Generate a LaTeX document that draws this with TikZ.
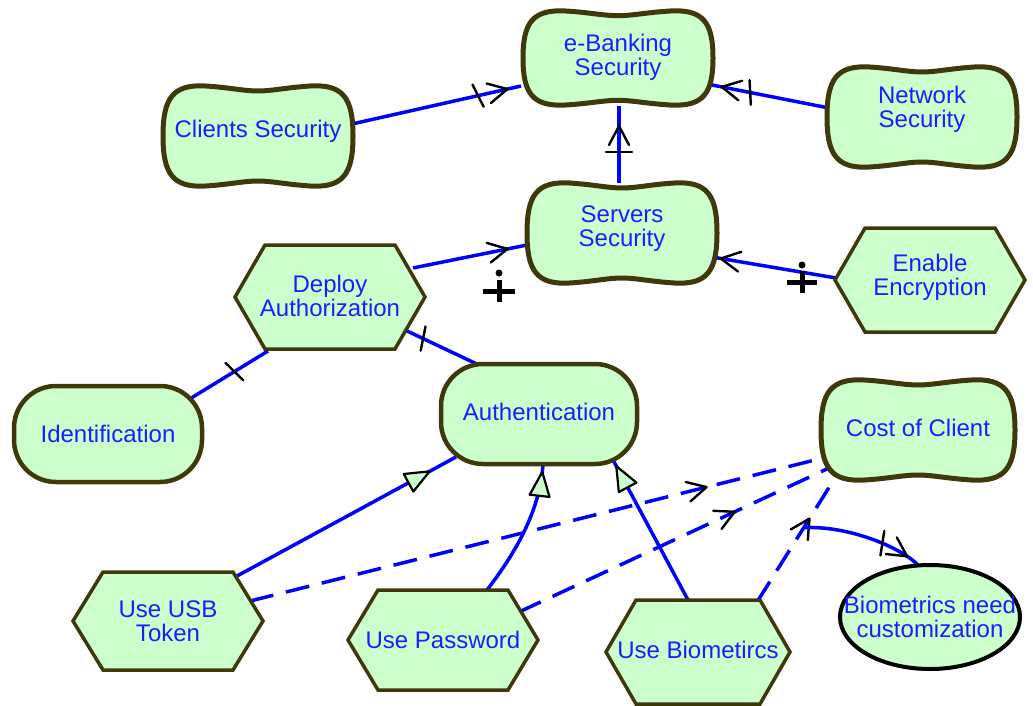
\documentclass[tikz,border=0pt]{standalone}
\usepackage{fontspec}
\usetikzlibrary{calc,decorations.markings}
\newfontfamily\lbfont{Liberation Sans}
\definecolor{sgfill}{RGB}{204,255,204}
\definecolor{edgecol}{RGB}{62,56,10}
\definecolor{txtblue}{RGB}{28,28,255}
\definecolor{linkblue}{RGB}{0,0,255}
\pgfdeclarelayer{links}
\pgfdeclarelayer{shapes}
\pgfsetlayers{links,shapes,main}

\tikzset{
  lbl/.style={font=\lbfont\fontsize{24}{24}\selectfont, text=txtblue, align=center, inner sep=0pt},
  sgline/.style={fill=sgfill, draw=edgecol, line width=5pt, line join=round},
  taskline/.style={fill=sgfill, draw=edgecol, line width=3.5pt, line join=miter},
  goalline/.style={fill=sgfill, draw=edgecol, line width=4.5pt},
  beliefline/.style={fill=sgfill, draw=black, line width=4pt},
  link/.style={draw=linkblue, line width=3.5pt},
  dlink/.style={link, dash pattern=on 24pt off 13pt},
  mk/.style={draw=black, line width=2.4pt, line cap=round, line join=round, solid},
  plus/.style={draw=black, line width=5pt},
  barbat/.style={postaction={decorate,decoration={markings,mark=at position #1 with {\draw[mk] (-19,-10) -- (0,0) -- (-19,10);}}}},
  tickat/.style={postaction={decorate,decoration={markings,mark=at position #1 with {\draw[mk] (-3,-12) -- (3,12);}}}},
  barat/.style={postaction={decorate,decoration={markings,mark=at position #1 with {\draw[mk] (0,-13) -- (0,13);}}}},
  meat/.style={postaction={decorate,decoration={markings,mark=at position #1 with {\draw[mk, fill=sgfill, line width=2.2pt] (0,0) -- (-24,-10) -- (-24,10) -- cycle;}}}},
}

% softgoal outline: node, half width, half height, vertical offset
\newcommand\sgshape[4]{%
  \begin{pgfonlayer}{shapes}
  \path[sgline, shift={($(#1)+(0,#4)$)}]
    (-#2,0) .. controls (-#2,{-0.75*#3}) and ({-0.9*#2},{-1.04*#3}) .. ({-0.55*#2},-#3)
    .. controls ({-0.3*#2},{-0.97*#3}) and ({-0.15*#2},{-0.9*#3}) .. (0,{-0.9*#3})
    .. controls ({0.15*#2},{-0.9*#3}) and ({0.3*#2},{-0.97*#3}) .. ({0.55*#2},-#3)
    .. controls ({0.9*#2},{-1.04*#3}) and (#2,{-0.75*#3}) .. (#2,0)
    .. controls (#2,{0.75*#3}) and ({0.9*#2},{1.04*#3}) .. ({0.55*#2},#3)
    .. controls ({0.3*#2},{0.97*#3}) and ({0.15*#2},{0.9*#3}) .. (0,{0.9*#3})
    .. controls ({-0.15*#2},{0.9*#3}) and ({-0.3*#2},{0.97*#3}) .. ({-0.55*#2},#3)
    .. controls ({-0.9*#2},{1.04*#3}) and (-#2,{0.75*#3}) .. (-#2,0) -- cycle;
  \end{pgfonlayer}}
% task outline (hexagon)
\newcommand\tkshape[4]{%
  \begin{pgfonlayer}{shapes}
  \path[taskline, shift={($(#1)+(0,#4)$)}]
    (-#2,0) -- ({-#2+30},-#3) -- ({#2-30},-#3) -- (#2,0) -- ({#2-30},#3) -- ({-#2+30},#3) -- cycle;
  \end{pgfonlayer}}
% goal outline (rounded box)
\newcommand\glshape[4]{%
  \begin{pgfonlayer}{shapes}
  \path[goalline, rounded corners=42pt, shift={($(#1)+(0,#4)$)}] (-#2,-#3) rectangle (#2,#3);
  \end{pgfonlayer}}
% belief outline (ellipse)
\newcommand\blshape[4]{%
  \begin{pgfonlayer}{shapes}
  \path[beliefline, shift={($(#1)+(0,#4)$)}] (0,0) ellipse [x radius=#2pt, y radius=#3pt];
  \end{pgfonlayer}}

\begin{document}
\begin{tikzpicture}[x=1pt,y=-1pt]
\useasboundingbox (0,0) rectangle (1033,706);

% elements
\node[lbl] (eb)  at (618,57)  {e-Banking\\Security};
\node[lbl] (cs)  at (258,131) {Clients Security};
\node[lbl] (ns)  at (922,109) {Network\\Security};
\node[lbl] (ss)  at (622,229) {Servers\\Security};
\node[lbl] (da)  at (330,296) {Deploy\\Authorization};
\node[lbl] (ee)  at (930,277) {Enable\\Encryption};
\node[lbl] (id)  at (108,434) {Identification};
\node[lbl] (au)  at (539,412) {Authentication};
\node[lbl] (cc)  at (918,428) {Cost of Client};
\node[lbl] (usb) at (168,621) {Use USB\\Token};
\node[lbl] (pw)  at (443,640) {Use Password};
\node[lbl] (bio) at (698,650) {Use Biometircs};
\node[lbl] (bn)  at (930,617) {Biometrics need\\customization};

\sgshape{eb}{95}{47}{1}
\sgshape{cs}{95}{50}{5}
\sgshape{ns}{95}{50}{8}
\sgshape{ss}{95}{50}{4}
\sgshape{cc}{97}{50}{2}
\tkshape{da}{95}{52}{1}
\tkshape{ee}{95}{52}{3}
\tkshape{usb}{95}{49}{0}
\tkshape{pw}{95}{50}{0}
\tkshape{bio}{92}{52}{2}
\glshape{id}{94}{48}{0}
\glshape{au}{98}{50}{2}
\blshape{bn}{90}{52}{0}

% links
\begin{pgfonlayer}{links}
\draw[link, barbat=-14pt, tickat=-44pt] ($(cs)+(94,-7)$) -- ($(eb)+(-97,29)$);
\draw[link, barbat=-15pt, tickat=-44pt] ($(ns)+(-93,-1)$) -- ($(eb)+(89,27)$);
\draw[link, barbat=-20pt, barat=-46pt] ($(ss)+(-3,-46)$) -- ($(eb)+(1,49)$);
\draw[link, barbat=-20pt] ($(da)+(83,-28)$) -- ($(ss)+(-95,16)$);
\draw[link, barbat=-9pt] ($(ee)+(-94,1)$) -- ($(ss)+(90,28)$);
\draw[link, tickat=0.58] ($(id)+(80,-34)$) -- ($(da)+(-62,55)$);
\draw[link, tickat=-20pt] ($(au)+(-58,-46)$) -- ($(da)+(75,34)$);
\draw[link, meat=-30pt] ($(usb)+(69,-45)$) -- ($(au)+(-83,45)$);
\draw[link, meat=-8pt] ($(pw)+(44,-50)$) .. controls ($(pw)+(67,-80)$) and ($(au)+(1,103)$) .. ($(au)+(4,52)$);
\draw[link, meat=-7pt] ($(bio)+(-10,-50)$) -- ($(au)+(74,48)$);
\draw[dlink, barbat=-120pt] ($(usb)+(82,-20)$) -- ($(cc)+(-95,30)$);
\draw[dlink, barbat=-104pt] ($(pw)+(76,-28)$) -- ($(cc)+(-89,40)$);
\coordinate (bs) at ($(bio)+(59,-48)$);
\coordinate (ce) at ($(cc)+(-83,50)$);
\coordinate (j) at ($(bs)!0.6!(ce)$);
\draw[dlink, barbat=-48pt] (bs) -- (ce);
\draw[link, barbat=-14pt, tickat=-42pt] (j) .. controls ($(j)+(45,-2)$) and ($(bn)+(-30,-70)$) .. ($(bn)+(-12,-52)$);
\end{pgfonlayer}

% contribution signs
\draw[plus] (483,291) -- (515,291) (499,280) -- (499,302);
\fill (499,273) circle [radius=3.5pt];
\draw[plus] (787,282) -- (817,282) (802,271) -- (802,293);
\fill (802,265) circle [radius=3.5pt];
\end{tikzpicture}
\end{document}
